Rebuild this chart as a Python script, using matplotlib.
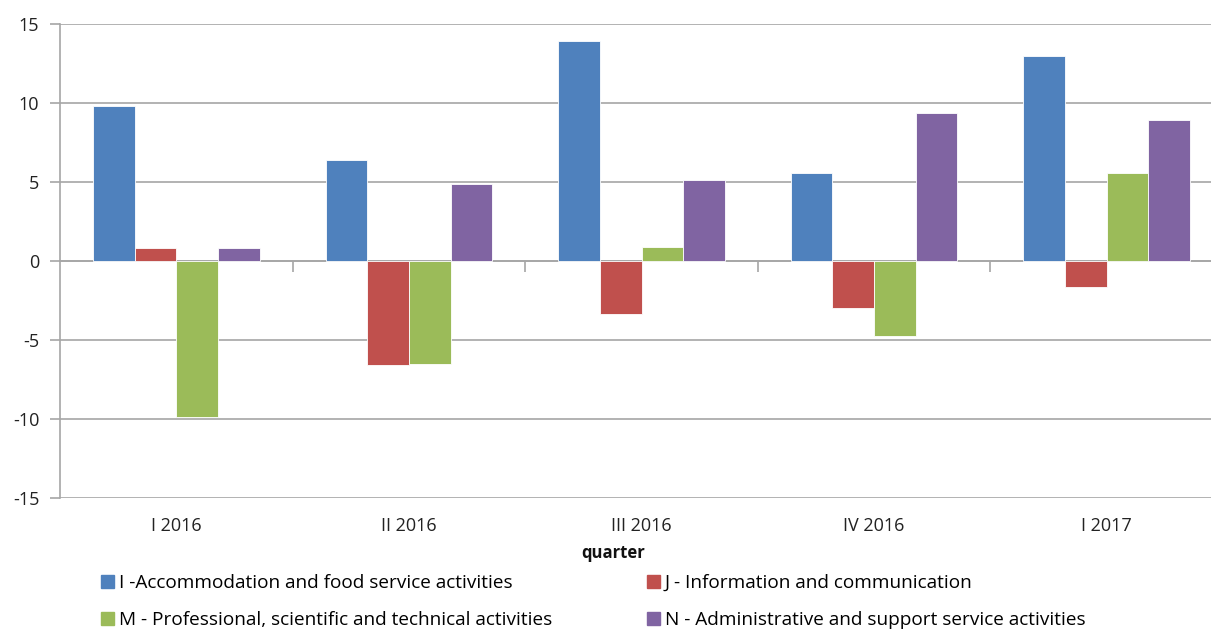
import numpy as np
import matplotlib.pyplot as plt
from matplotlib.patches import Patch

plt.rcParams['font.family'] = ['Open Sans', 'DejaVu Sans']
plt.rcParams['axes.unicode_minus'] = False

quarters = ['I 2016', 'II 2016', 'III 2016', 'IV 2016', 'I 2017']
series = ['I -Accommodation and food service activities',
          'J - Information and communication',
          'M - Professional, scientific and technical activities',
          'N - Administrative and support service activities']
accommodation = [9.8, 6.4, 13.9, 5.6, 13.0]
information = [0.8, -6.6, -3.35, -2.95, -1.65]
professional = [-9.9, -6.5, 0.9, -4.75, 5.6]
administrative = [0.85, 4.9, 5.15, 9.35, 8.95]
colors = ['#4F81BD', '#C0504D', '#9BBB59', '#8064A2']

values = [accommodation, information, professional, administrative]

fig = plt.figure(figsize=(12.11, 6.30), dpi=100)
ax = fig.add_axes([60/1211, 132/630, 1163/1211, 474/630])

x = np.arange(len(quarters))
w = 0.179
for i, (vals, c) in enumerate(zip(values, colors)):
    ax.bar(x + (i - 1.5) * w, vals, w, color=c, edgecolor='white',
           linewidth=0.6, zorder=3)

ax.set_xlim(-0.5, len(quarters) - 0.5)
ax.set_ylim(-15, 15)
ax.set_yticks(np.arange(-15, 16, 5))
ax.grid(axis='y', color='#a6a6a6', linewidth=1.2, zorder=0)
for s in ['top', 'right', 'bottom']:
    ax.spines[s].set_visible(False)
ax.spines['left'].set_color('#a6a6a6')
ax.spines['left'].set_linewidth(1.2)
ax.tick_params(axis='y', length=7, color='#a6a6a6', width=1.2,
               labelsize=13, pad=8, labelcolor='#222222')
ax.set_xticks(x)
ax.set_xticklabels(quarters)
ax.tick_params(axis='x', length=0, labelsize=13, pad=14, labelcolor='#222222')

# zero axis line with category boundary ticks pointing down
sec = ax.secondary_xaxis(0.5)
for s in sec.spines.values():
    s.set_color('#a6a6a6')
    s.set_linewidth(1.2)
sec.set_xticks(np.arange(0.5, len(quarters) - 0.5, 1))
sec.set_xticklabels([])
sec.tick_params(length=8, color='#a6a6a6', width=1.2, direction='in')

fig.text(613/1211, 1 - 553/630, 'quarter', fontsize=12, fontweight='bold',
         ha='center', va='center', color='#111111')

handles = [Patch(color=c) for c in colors]
order = [0, 2, 1, 3]
fig.legend([handles[i] for i in order], [series[i] for i in order],
           ncol=2, loc='upper left', bbox_to_anchor=(101/1211, 1 - 574/630),
           frameon=False, fontsize=13.7, handlelength=0.68, handleheight=0.68,
           handletextpad=0.25, labelspacing=1.0, columnspacing=5.0,
           borderaxespad=0, borderpad=0)

fig.savefig('out.png', dpi=100)
